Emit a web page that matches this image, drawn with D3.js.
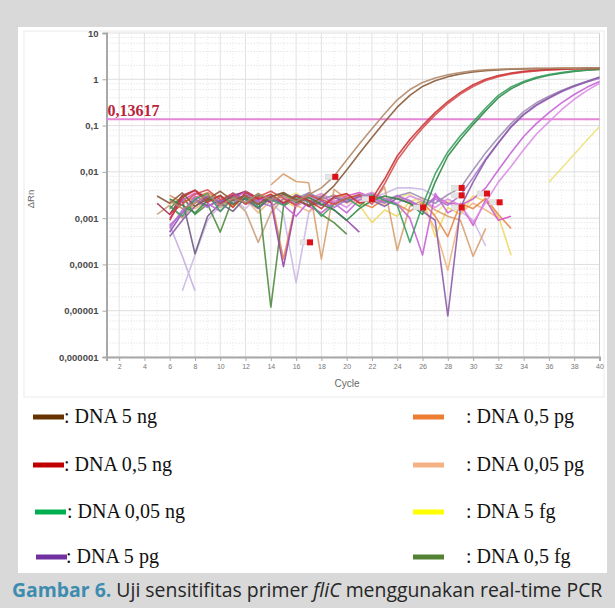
<!DOCTYPE html>
<html>
<head>
<meta charset="utf-8">
<script src="https://cdn.jsdelivr.net/npm/d3@7"></script>
<style>
  body { margin: 0; background: #d9d9d9; }
  svg { display: block; }
</style>
</head>
<body>
<div id="chart"></div>
<script>
// ---- data: dRn per cycle, each run starts at the cycle given in runs below ----
const brownA = [0.0024,0.0016,0.0021,0.0033,0.0019,0.0027,0.0022,0.0034,0.0025,0.0030,0.0023,0.0032,
  0.0045,0.008,0.018,0.04,0.085,0.18,0.36,0.6,0.85,1.07,1.25,1.4,1.52,1.6,1.65,1.68,1.7,1.72,1.73,1.74,1.74,1.75,1.75];
const brownB = [0.0030,0.0021,0.0035,0.0018,0.0026,0.0038,0.0024,0.0031,0.0020,0.0029,0.0036,0.0025,0.0019,0.0028,
  0.005,0.011,0.025,0.055,0.12,0.25,0.45,0.7,0.93,1.14,1.3,1.44,1.54,1.6,1.65,1.68,1.7,1.71,1.72,1.73,1.74,1.74];
const redA = [0.0009,0.0028,0.0040,0.0022,0.0031,0.0017,0.0036,0.0026,0.0033,0.0021,0.0030,0.0024,0.0016,0.0029,0.0034,0.0021,0.0026,
  0.007,0.022,0.05,0.1,0.19,0.33,0.52,0.76,1.0,1.2,1.36,1.48,1.56,1.62,1.66,1.69,1.71,1.72];
const redB = [0.0012,0.0020,0.0033,0.0041,0.0025,0.0034,0.0020,0.0029,0.0038,0.0027,0.0019,0.0032,0.0025,0.0020,0.0027,0.0032,0.0020,
  0.0055,0.018,0.042,0.088,0.17,0.3,0.48,0.7,0.94,1.14,1.3,1.43,1.52,1.59,1.64,1.67,1.7,1.71];
const greenA = [0.0018,0.0011,0.0026,0.0034,0.0014,0.0028,0.0021,0.0032,0.0025,0.0019,0.0030,0.0023,0.0011,0.0020,0.0027,0.0018,0.0031,0.0024,0.0019,
  0.0003,0.0019,0.009,0.027,0.06,0.12,0.24,0.45,0.68,0.9,1.1,1.27,1.4,1.52,1.6,1.66];
const greenB = [0.0026,0.0019,0.0013,0.0024,0.0031,0.0020,0.0027,0.0017,0.0029,0.0035,0.0022,0.0028,0.0020,0.0015,0.0009,0.0016,0.0024,0.0030,0.0026,0.0021,
  0.0012,0.006,0.022,0.05,0.105,0.21,0.4,0.62,0.85,1.05,1.22,1.36,1.48,1.57,1.64];
const purpleA = [0.0004,0.0009,0.0018,0.0030,0.0022,0.0035,0.0025,0.0016,0.0027,0.0021,0.0032,0.0024,0.0019,0.0028,0.0022,0.0030,0.0024,0.0018,0.0027,0.0021,0.0014,0.0009,
  0.0000077,0.0017,0.006,0.018,0.042,0.095,0.175,0.28,0.4,0.55,0.72,0.9,1.12];
const purpleB = [0.0006,0.0015,0.0024,0.0017,0.0029,0.0021,0.0033,0.0023,0.0018,0.0026,0.0020,0.0031,0.0023,0.0017,0.0025,0.0033,0.0026,0.0021,0.0030,0.0024,0.0017,0.0026,0.0019,0.0031,
  0.0075,0.019,0.043,0.092,0.17,0.27,0.39,0.54,0.7,0.87,1.05];
const purpleC = [0.0030,0.0022,0.0027,0.0035,0.0026,0.0031,0.0024,0.0029,0.0033,0.0025,0.0030,0.0036,0.0027,0.0021,0.0032,
  0.0045,0.011,0.026,0.055,0.11,0.2,0.31,0.43,0.57,0.73,0.89,1.08];
const magentaA = [0.0007,0.0013,0.0030,0.0021,0.0014,0.0026,0.0037,0.0024,0.0031,0.0019,0.0011,0.0023,0.0030,0.0021,0.0013,0.0025,0.0033,0.0026,0.0020,0.0010,
  0.00016,0.0034,0.0013,0.0019,0.0026,0.0045,0.011,0.026,0.058,0.11,0.19,0.31,0.47,0.67,0.9];
const magentaB = [0.0022,0.0030,0.0018,0.0026,0.0034,0.0024,0.0017,0.0029,0.0036,0.0027,0.0021,0.0030,0.0024,0.0017,0.0026,0.0019,0.0008,0.0022,
  0.006,0.013,0.03,0.065,0.12,0.22,0.37,0.57,0.82];
const yellowAmp = [0.006,0.012,0.024,0.048,0.095];
// runs that stay in the baseline
const lavenderA = [0.0007,0.00015,0.000027];
const lavenderB = [0.000027,0.00016,0.0009,0.0019,0.0026,0.0016,0.0031,0.0022,0.0012,0.00004,0.0013,0.0026,0.0021,0.0031,0.0024,0.0028,0.0034,0.0045,0.0045,0.0042,0.0030,0.0022,0.0014,0.0009,0.00025];
const darkGreen = [0.0016,0.0030,0.0012,0.0020,0.0005,0.0027,0.0021,0.0034,0.000012,0.0018,0.0028,0.0022,0.0012,0.0008,0.00045];
const greyPurple = [0.0012,0.0025,0.00017,0.0011,0.0021,0.0014,0.0028,0.0019];
const purpleN = [0.0005,0.0013,0.0026,0.0018,0.0024,0.0032,0.0020,0.0027,0.0023,0.00009,0.0021,0.0035,0.0024,0.0015,0.0009,0.0005];
const orangeN = [0.0031,0.0022,0.0028,0.0036,0.0025,0.0019,0.0030,0.0026,0.0029,0.00013,0.0023,0.0029,0.0019,0.0026,0.0033,0.0022,0.0017,0.0026,0.0020,0.0014,0.0022,0.0011,0.0004,0.0021,0.0016,0.0027,0.0012,0.0006];
const tanN = [0.0052,0.0090,0.0062,0.0058,0.00013,0.0042,0.0026,0.0031,0.0022,0.0047,0.0002,0.0018,0.0024,0.0015,0.0011,0.0009,0.00015,0.0006];
const peachN = [0.0020,0.0027,0.0016,0.0023,0.0030,0.0021,0.0026,0.0013,0.0024,0.0031,0.0019,0.0014,0.0025,0.0032,0.0021,0.0028,0.0036,0.0024,0.0029,0.0022,0.0018,0.0006,0.000075,0.0013,0.0021,0.0015,0.0010];
const yellowN = [0.0024,0.0018,0.0029,0.0021,0.0032,0.0025,0.0017,0.0027,0.0033,0.0022,0.0029,0.0019,0.0008,0.0015,0.0011,0.0023,0.0028,0.0004,0.0017,0.0012,0.0030,0.0023,0.0011,0.00016];
const yellowN2 = [0.0017,0.0026,0.0035,0.0023,0.0030,0.0018,0.0026,0.0034,0.0025,0.0019,0.0028,0.0033,0.0020,0.0012,0.0024,0.0018,0.0029];
const magentaN = [0.0010,0.0024,0.0035,0.0027,0.0019,0.0031,0.0036,0.0022,0.0028,0.0020,0.0025,0.0018,0.0013,0.0022,0.0030,0.0036,0.0028,0.0022,0.0031,0.0023,0.0016,0.0029,0.0021,0.0020,0.0007,0.0025,0.0009,0.0011];
const maroonN = [0.0021,0.0012,0.0031,0.0040,0.0026,0.0021,0.0030,0.0038,0.0027,0.0022,0.0033,0.0026,0.0018,0.0023];
const tanN2 = [0.0012,0.0019,0.0010,0.0022,0.0029,0.0017,0.0025,0.0014,0.0003,0.0013,0.0027,0.0020,0.0024];

const runs = [
  { name: "lavenderA", start: 6, values: lavenderA },
  { name: "lavenderB", start: 7, values: lavenderB },
  { name: "yellowN2", start: 14, values: yellowN2 },
  { name: "yellowN", start: 10, values: yellowN },
  { name: "peachN", start: 6, values: peachN },
  { name: "tanN2", start: 5, values: tanN2 },
  { name: "tanN", start: 14, values: tanN },
  { name: "orangeN", start: 6, values: orangeN },
  { name: "darkGreen", start: 6, values: darkGreen },
  { name: "greyPurple", start: 6, values: greyPurple },
  { name: "purpleN", start: 6, values: purpleN },
  { name: "magentaN", start: 6, values: magentaN },
  { name: "maroonN", start: 5, values: maroonN },
  { name: "yellowAmp", start: 36, values: yellowAmp },
  { name: "magentaB", start: 14, values: magentaB },
  { name: "magentaA", start: 6, values: magentaA },
  { name: "purpleC", start: 14, values: purpleC },
  { name: "purpleB", start: 6, values: purpleB },
  { name: "purpleA", start: 6, values: purpleA },
  { name: "greenB", start: 6, values: greenB },
  { name: "greenA", start: 6, values: greenA },
  { name: "redB", start: 6, values: redB },
  { name: "redA", start: 6, values: redA },
  { name: "brownB", start: 5, values: brownB },
  { name: "brownA", start: 6, values: brownA }
];

// Ct markers placed by the instrument software [cycle, dRn]
const ctMarkers = [[19.1,0.0078],[17.1,0.0003],[22,0.0026],[26.05,0.0017],[29.1,0.0045],[29.1,0.0031],[29.1,0.0017],[31.1,0.0034],[32.1,0.0022]];

const threshold = 0.13617;
const yTicks = [10, 1, 0.1, 0.01, 0.001, 0.0001, 0.00001, 0.000001];
const yTickLabels = ["10", "1", "0,1", "0,01", "0,001", "0,0001", "0,00001", "0,000001"];
const xTicks = d3.range(2, 41, 2);

const legendLabels = [": DNA 5 ng", ": DNA 0,5 ng", ": DNA 0,05 ng", ": DNA 5 pg",
                      ": DNA 0,5 pg", ": DNA 0,05 pg", ": DNA 5 fg", ": DNA 0,5 fg"];

// ---- styles ----
const runColor = {
  brownA: "#b08a6a", brownB: "#8a5a3a", redA: "#cc3535", redB: "#d85050",
  greenA: "#3aa060", greenB: "#2f8a45", purpleA: "#8c5cab", purpleB: "#a878cc",
  purpleC: "#9d8fb2", magentaA: "#c862d8", magentaB: "#dc8ee6", yellowAmp: "#ece27c",
  lavenderA: "#c4ade0", lavenderB: "#cbb8e4", darkGreen: "#4f8c3e", greyPurple: "#6e5e80",
  purpleN: "#9646aa", orangeN: "#e8894c", tanN: "#d9a070", peachN: "#f2b482",
  yellowN: "#f0d866", yellowN2: "#f5e48a", magentaN: "#d658ca", maroonN: "#a0304c", tanN2: "#c9a283"
};
const legendColors = ["#663300", "#c00000", "#00b050", "#7030a0", "#ed7d31", "#f4b183", "#ffff00", "#548235"];

const W = 615, H = 608;
const svg = d3.select("#chart").append("svg").attr("width", W).attr("height", H);

svg.append("rect").attr("width", W).attr("height", H).attr("fill", "#d9d9d9");
svg.append("rect").attr("x", 18).attr("y", 27).attr("width", 589).attr("height", 546).attr("fill", "#fff");
svg.append("rect").attr("x", 24).attr("y", 31).attr("width", 580).attr("height", 366)
  .attr("fill", "none").attr("stroke", "#ececec");

// Scales
const x = d3.scaleLinear().domain([1, 40]).range([106.5, 599.5]);
const y = d3.scaleLog().domain([1e-6, 10]).range([357, 33]);

// Grid
const grid = svg.append("g");
d3.range(1, 41).forEach(c => {
  grid.append("line")
    .attr("x1", x(c)).attr("x2", x(c)).attr("y1", y(10)).attr("y2", y(1e-6))
    .attr("stroke", c % 2 === 0 ? "#e2e2e2" : "#ececec")
    .attr("stroke-dasharray", c % 2 === 0 ? null : "1,2");
});
d3.range(-6, 1).forEach(e => {
  [2, 4, 6, 8].forEach(k => {
    const v = k * Math.pow(10, e);
    grid.append("line")
      .attr("x1", x(1)).attr("x2", x(40)).attr("y1", y(v)).attr("y2", y(v))
      .attr("stroke", "#e6e6e6").attr("stroke-dasharray", "1.5,1.5");
  });
});
yTicks.forEach(v => {
  grid.append("line")
    .attr("x1", x(1)).attr("x2", x(40)).attr("y1", y(v)).attr("y2", y(v))
    .attr("stroke", "#dedede");
});
grid.append("line").attr("x1", x(40)).attr("x2", x(40)).attr("y1", y(10)).attr("y2", y(1e-6)).attr("stroke", "#d0d0d0");

// Axes
const yAxis = svg.append("g")
  .attr("transform", `translate(${x(1)},0)`)
  .call(d3.axisLeft(y).tickValues(yTicks).tickSize(4).tickFormat((d, i) => yTickLabels[i]));
const xAxis = svg.append("g")
  .attr("transform", `translate(0,${y(1e-6)})`)
  .call(d3.axisBottom(x).tickValues(xTicks).tickSize(4).tickFormat(d3.format("d")));
[yAxis, xAxis].forEach(a => {
  a.select(".domain").attr("stroke", "#a8a8a8").attr("stroke-width", 2);
  a.selectAll(".tick line").attr("stroke", "#a8a8a8");
});
yAxis.selectAll("text")
  .attr("font-family", "Liberation Sans, Arial, sans-serif").attr("font-size", 9.5)
  .attr("font-weight", "bold").attr("fill", "#4a4a4a").attr("x", -8);
xAxis.selectAll("text")
  .attr("font-family", "Liberation Sans, Arial, sans-serif").attr("font-size", 7)
  .attr("fill", "#777").attr("y", 7);

svg.append("text")
  .attr("transform", `translate(34,199) rotate(-90)`)
  .attr("text-anchor", "middle")
  .attr("font-family", "Liberation Sans, Arial, sans-serif").attr("font-size", 9.5)
  .attr("fill", "#6a6a6a").text("ΔRn");
svg.append("text")
  .attr("x", 347).attr("y", 387).attr("text-anchor", "middle")
  .attr("font-family", "Liberation Sans, Arial, sans-serif").attr("font-size", 10)
  .attr("fill", "#666").text("Cycle");

// Threshold
svg.append("line")
  .attr("x1", x(1)).attr("x2", x(40)).attr("y1", y(threshold)).attr("y2", y(threshold))
  .attr("stroke", "#e585d6").attr("stroke-width", 2);
svg.append("text")
  .attr("x", x(1) + 1).attr("y", y(threshold) - 3)
  .attr("font-family", "Liberation Serif, Times New Roman, serif").attr("font-size", 16)
  .attr("font-weight", "bold").attr("fill", "#b8243a")
  .text("0,13617");

// Amplification runs
const line = d3.line().x(d => x(d[0])).y(d => y(d[1]));
const plot = svg.append("g");
runs.forEach(r => {
  const pts = r.values.map((v, i) => [r.start + i, v]);
  plot.append("path")
    .datum(pts)
    .attr("d", line)
    .attr("fill", "none")
    .attr("stroke", runColor[r.name])
    .attr("stroke-width", 1.6)
    .attr("stroke-linejoin", "round")
    .attr("opacity", 0.9);
});

// Ct markers
const marks = svg.append("g");
ctMarkers.forEach(([c, v]) => {
  marks.append("rect").attr("x", x(c) - 10).attr("y", y(v) - 2.5).attr("width", 7).attr("height", 5)
    .attr("fill", "#e4e4e4").attr("stroke", "#cfcfcf").attr("stroke-width", 0.5);
  marks.append("rect").attr("x", x(c) - 3).attr("y", y(v) - 3).attr("width", 6).attr("height", 6)
    .attr("fill", "#dd1018");
});

// Legend
const legend = svg.append("g");
const legendRowY = [417, 465, 512, 557];
const legendSwatchX = [33, 33, 35, 36, 413, 413, 413, 413];
const legendTextX = [64, 64, 67, 66, 466, 466, 466, 466];
const labelFont = "Liberation Serif, Times New Roman, serif";
let probe = legend.append("text").attr("font-family", labelFont).attr("font-size", 20).text(legendLabels[0]);
const legendSize = 20 * 93 / probe.node().getComputedTextLength();
probe.remove();
legendLabels.forEach((lab, i) => {
  const yy = legendRowY[i % 4];
  legend.append("line")
    .attr("x1", legendSwatchX[i]).attr("x2", legendSwatchX[i] + 31)
    .attr("y1", yy).attr("y2", yy)
    .attr("stroke", legendColors[i]).attr("stroke-width", 5);
  legend.append("text")
    .attr("x", legendTextX[i]).attr("y", yy + 6)
    .attr("font-family", labelFont).attr("font-size", legendSize)
    .attr("fill", "#111").text(lab);
});

// Caption
const cap = svg.append("text")
  .attr("x", 12).attr("y", 597)
  .attr("font-family", "Open Sans, Noto Sans, sans-serif").attr("font-size", 16)
  .attr("fill", "#262626");
cap.append("tspan").attr("font-weight", "bold").attr("fill", "#3d8cb0").text("Gambar 6.");
cap.append("tspan").text(" Uji sensitifitas primer ");
cap.append("tspan").attr("font-style", "italic").text("fliC");
cap.append("tspan").text(" menggunakan real-time PCR");
const capLen = cap.node().getComputedTextLength();
cap.attr("font-size", 16 * 591 / capLen);
</script>
</body>
</html>
